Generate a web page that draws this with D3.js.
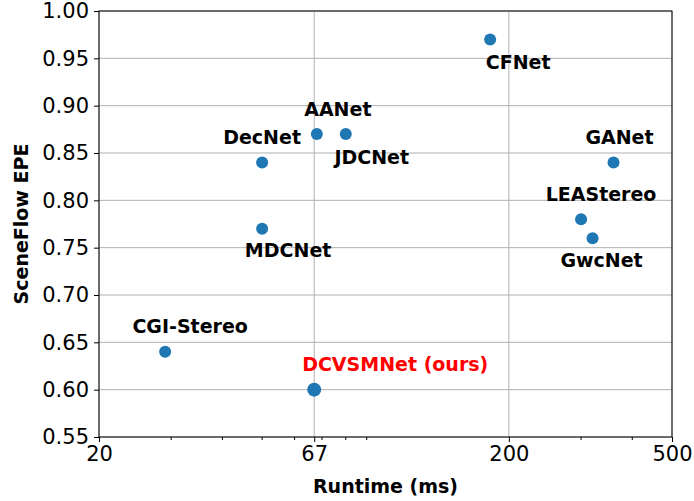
<!DOCTYPE html>
<html>
<head>
<meta charset="utf-8">
<script src="https://cdn.jsdelivr.net/npm/d3@7"></script>
<style>
  body { margin: 0; background: #fff; }
  text { font-family: "DejaVu Sans", sans-serif; }
</style>
</head>
<body>
<svg id="chart" width="694" height="501"></svg>
<script>
const methods = ['CGI-Stereo', 'DecNet', 'MDCNet', 'DCVSMNet (ours)', 'AANet', 'JDCNet', 'CFNet', 'LEAStereo', 'GwcNet', 'GANet'],
    runtimes = [29, 50, 50, 67, 68, 80, 180, 300, 320, 360],
    epes = [0.64, 0.84, 0.77, 0.60, 0.87, 0.87, 0.97, 0.78, 0.76, 0.84],
    xTicks = [20, 67, 200, 500],
    xMinor = [30, 40, 50, 60, 70, 80, 90, 300, 400],
    yTicks = d3.range(0.55, 1.0001, 0.05);

// label offsets from the point (px)
const labelOffsets = [
    [25, -25], [0, -25], [26, 22], [81, -25], [21, -25],
    [26, 23], [28, 23], [20, -25], [9, 22], [6, -25]
];

const svg = d3.select("#chart"),
    margin = {top: 11, right: 22, bottom: 64, left: 99},
    width = +svg.attr("width") - margin.left - margin.right,
    height = +svg.attr("height") - margin.top - margin.bottom,
    g = svg.append("g").attr("transform", `translate(${margin.left},${margin.top})`);

const x = d3.scaleLog().domain([20, 500]).range([0, width]),
    y = d3.scaleLinear().domain([0.55, 1.0]).range([height, 0]);

// grid
g.append("g").selectAll("line").data(xTicks).join("line")
    .attr("x1", d => x(d)).attr("x2", d => x(d))
    .attr("y1", 0).attr("y2", height)
    .attr("stroke", "#b0b0b0").attr("stroke-width", 1);
g.append("g").selectAll("line").data(yTicks).join("line")
    .attr("x1", 0).attr("x2", width)
    .attr("y1", d => y(d)).attr("y2", d => y(d))
    .attr("stroke", "#b0b0b0").attr("stroke-width", 1);

// axes
const xAxis = g.append("g")
    .attr("transform", `translate(0,${height})`)
    .call(d3.axisBottom(x).tickValues(xTicks).tickFormat(d3.format("d")).tickSizeOuter(0).tickSize(5).tickPadding(4));
xAxis.selectAll("text").attr("font-size", 21).attr("fill", "#000");
xAxis.append("g").selectAll("line").data(xMinor).join("line")
    .attr("x1", d => x(d)).attr("x2", d => x(d))
    .attr("y1", 0).attr("y2", 3)
    .attr("stroke", "#000");

const yAxis = g.append("g")
    .call(d3.axisLeft(y).tickValues(yTicks).tickFormat(d3.format(".2f")).tickSizeOuter(0).tickSize(5).tickPadding(5));
yAxis.selectAll("text").attr("font-size", 21).attr("fill", "#000");
svg.selectAll(".domain").remove();

// frame
g.append("rect")
    .attr("width", width).attr("height", height)
    .attr("fill", "none").attr("stroke", "#000").attr("stroke-width", 1);

// points
g.append("g").selectAll("circle").data(methods).join("circle")
    .attr("cx", (d, i) => x(runtimes[i]))
    .attr("cy", (d, i) => y(epes[i]))
    .attr("r", d => d.startsWith("DCVSMNet") ? 7 : 6)
    .attr("fill", "#1f77b4");

// labels
g.append("g").selectAll("text").data(methods).join("text")
    .attr("x", (d, i) => x(runtimes[i]) + labelOffsets[i][0])
    .attr("y", (d, i) => y(epes[i]) + labelOffsets[i][1])
    .attr("dy", "0.35em")
    .attr("text-anchor", "middle")
    .attr("font-size", 19)
    .attr("font-weight", "bold")
    .attr("fill", d => d.startsWith("DCVSMNet") ? "red" : "#000")
    .text(d => d);

// axis titles
svg.append("text")
    .attr("x", margin.left + width / 2).attr("y", 493)
    .attr("text-anchor", "middle")
    .attr("font-size", 19).attr("font-weight", "bold")
    .text("Runtime (ms)");
svg.append("text")
    .attr("transform", `translate(28,${margin.top + height / 2}) rotate(-90)`)
    .attr("text-anchor", "middle")
    .attr("font-size", 19).attr("font-weight", "bold")
    .text("SceneFlow EPE");
</script>
</body>
</html>
